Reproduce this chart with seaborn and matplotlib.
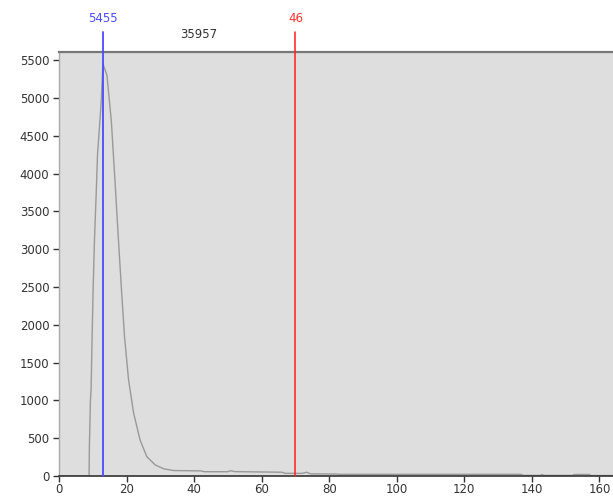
import matplotlib
matplotlib.use("Agg")
import matplotlib.pyplot as plt
import seaborn as sns
import pandas as pd

# ── Data ────────────────────────────────────────────────
bin_x = [0, 8.9, 9.0, 9.3, 9.5, 9.8, 10.1, 10.5, 11.0, 11.4, 12.5, 13.0,
         13.4, 14.2, 15.5, 16.7, 17.6, 18.5, 19.4, 20.6, 22.1, 24.0, 26.0,
         28.5, 31, 34, 42, 43, 50, 50.7, 52, 66, 67, 72, 73.3, 74.5, 82, 83,
         136.8, 137.5, 142.5, 143, 143.5, 152, 152.5, 157, 157.5, 172]
counts = [0, 0, 400, 1000, 1140, 1840, 2460, 3120, 3720, 4250, 4950, 5455,
          5400, 5300, 4690, 3810, 3120, 2460, 1840, 1270, 830, 476, 255,
          146, 95, 72, 68, 57, 57, 70, 58, 50, 35, 35, 50, 28, 26, 22,
          22, 8, 8, 20, 8, 8, 20, 20, 6, 6]
x_ticks = list(range(0, 161, 20))
y_ticks = list(range(0, 5501, 500))
peak_pos, peak_label = 13, "5455"
cut_pos, cut_label = 70, "46"
total_label = "35957"
# ────────────────────────────────────────────────────────

df = pd.DataFrame({"x": bin_x, "count": counts})

sns.set_style("ticks")
plt.rcParams["font.family"] = ["DejaVu Sans"]

fig = plt.figure(figsize=(6.13, 4.96), dpi=100)
ax = fig.add_axes([59 / 613, 20 / 496, 581 / 613, 424 / 496])
ax.set_facecolor("#dedede")

sns.lineplot(data=df, x="x", y="count", estimator=None, sort=False,
             color="#999999", lw=1.0, ax=ax)

ax.set_xlim(0, 172)
ax.set_ylim(0, 5608)
ax.set_xticks(x_ticks)
ax.set_yticks(y_ticks)
ax.set_xlabel("")
ax.set_ylabel("")
ax.tick_params(axis="both", labelsize=8.5, colors="#333333", length=4,
               width=1, direction="out")
ax.tick_params(axis="x", pad=1)
ax.tick_params(axis="y", pad=3)

ax.spines["top"].set_color("#777777")
ax.spines["top"].set_linewidth(1.6)
ax.spines["left"].set_color("#aaaaaa")
ax.spines["left"].set_linewidth(1)
ax.spines["bottom"].set_color("#333333")
ax.spines["bottom"].set_linewidth(1.2)
ax.spines["right"].set_visible(False)

ext = 1.047
ax.axvline(peak_pos, ymin=0, ymax=ext, color="#4a4aff", lw=1.3,
           clip_on=False, zorder=3)
ax.axvline(cut_pos, ymin=0, ymax=ext, color="#ff2020", lw=1.1,
           clip_on=False, zorder=3)

trans = ax.get_xaxis_transform()
ax.text(peak_pos, 1.080, peak_label, color="#4a4aff", fontsize=8.5,
        ha="center", va="center", transform=trans)
ax.text(cut_pos, 1.080, cut_label, color="#ff3030", fontsize=8.5,
        ha="center", va="center", transform=trans)
ax.text((peak_pos + cut_pos) / 2, 1.042, total_label, color="#333333",
        fontsize=8.5, ha="center", va="center", transform=trans)

fig.savefig("out.png", dpi=100)
plt.close(fig)
